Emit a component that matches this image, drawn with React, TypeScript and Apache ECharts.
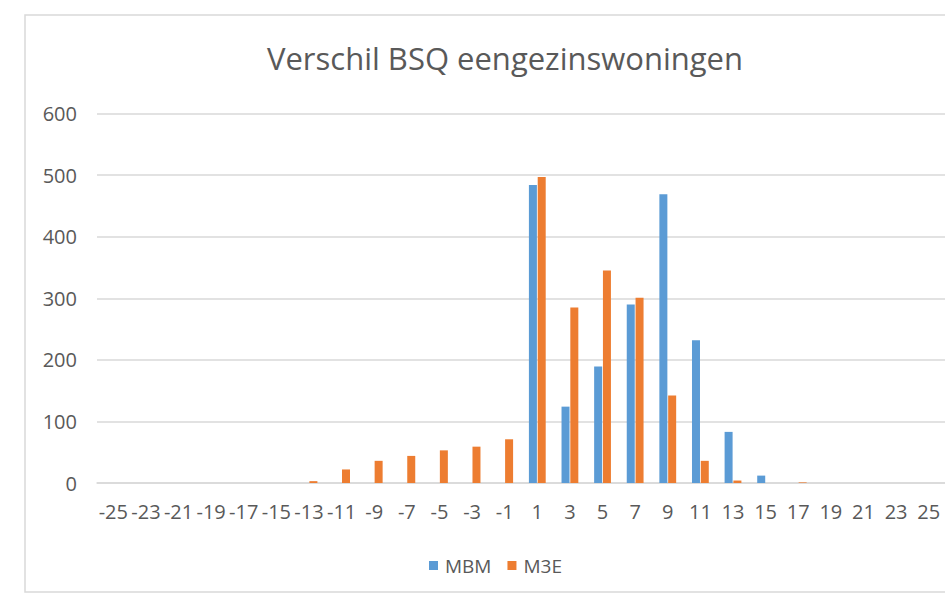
import React, { useEffect, useRef } from "react";
import * as echarts from "echarts";

const categories = [
  "-25", "-23", "-21", "-19", "-17", "-15", "-13", "-11", "-9", "-7", "-5", "-3", "-1",
  "1", "3", "5", "7", "9", "11", "13", "15", "17", "19", "21", "23", "25",
];
const mbm = [0, 0, 0, 0, 0, 0, 0, 0, 0, 0, 0, 0, 0, 484, 124, 189, 290, 469, 232, 83, 12, 0, 0, 0, 0, 0];
const m3e = [0, 0, 0, 0, 0, 0, 3, 22, 36, 44, 53, 59, 71, 497, 285, 345, 301, 142, 36, 4, 0, 1, 0, 0, 0, 0];
const title = "Verschil BSQ eengezinswoningen";

export default function App() {
  const ref = useRef<HTMLDivElement>(null);
  useEffect(() => {
    const chart = echarts.init(ref.current!, null, { renderer: "svg" });
    const font = "'Open Sans', 'Liberation Sans', sans-serif";
    chart.setOption({
      animation: false,
      backgroundColor: "#ffffff",
      textStyle: { fontFamily: font },
      title: {
        text: title,
        left: 500,
        top: 37,
        textAlign: "center",
        textStyle: { fontFamily: font, fontSize: 31, fontWeight: "normal", color: "#595959" },
      },
      graphic: [
        {
          type: "rect",
          shape: { x: 25, y: 15, width: 1000, height: 577 },
          style: { fill: "none", stroke: "#d9d9d9", lineWidth: 1.5 },
          silent: true,
          z: -1,
        },
      ],
      legend: {
        data: ["MBM", "M3E"],
        left: 424,
        top: 551,
        itemWidth: 9,
        itemHeight: 9,
        itemGap: 16,
        icon: "rect",
        textStyle: { fontFamily: font, fontSize: 19, color: "#595959", padding: [0, 0, 0, 2] },
      },
      grid: { left: 97, top: 113.5, width: 850, height: 369.5, containLabel: false },
      xAxis: {
        type: "category",
        data: categories,
        axisTick: { show: false },
        axisLine: { lineStyle: { color: "#d9d9d9", width: 1.5 } },
        axisLabel: { interval: 0, color: "#595959", fontSize: 20, margin: 18, fontFamily: font },
      },
      yAxis: {
        type: "value",
        min: 0,
        max: 600,
        interval: 100,
        axisLine: { show: false },
        axisTick: { show: false },
        splitLine: { lineStyle: { color: "#d9d9d9", width: 1.5 } },
        axisLabel: { color: "#595959", fontSize: 20, margin: 20, fontFamily: font },
      },
      series: [
        { name: "MBM", type: "bar", data: mbm, barWidth: 8, barGap: "10%", itemStyle: { color: "#5B9BD5" } },
        { name: "M3E", type: "bar", data: m3e, barWidth: 8, itemStyle: { color: "#ED7D31" } },
      ],
    });
    return () => chart.dispose();
  }, []);
  return (
    <div
      ref={ref}
      style={{ position: "fixed", left: 0, top: 0, width: 945, height: 596, background: "#fff" }}
    />
  );
}
